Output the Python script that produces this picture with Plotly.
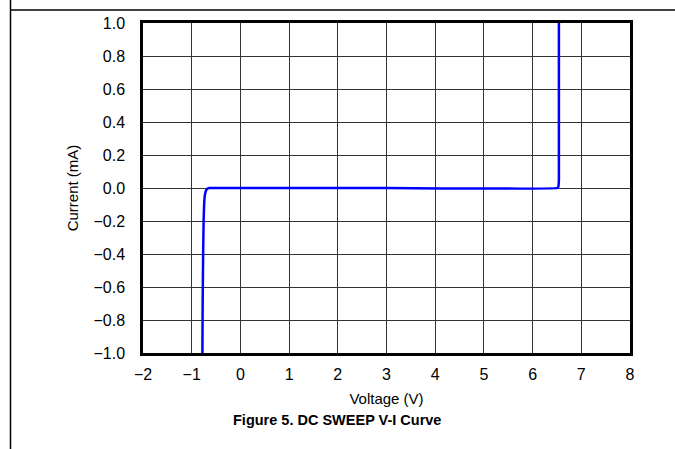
import plotly.graph_objects as go

voltage = [-0.78, -0.775, -0.765, -0.755, -0.745, -0.73, -0.71, -0.68, -0.64, 0.0, 3.0, 6.51, 6.53, 6.54, 6.54]
current = [-1.0, -0.7, -0.4, -0.2, -0.1, -0.045, -0.018, -0.005, 0.0, 0.0, 0.0, 0.0, 0.01, 0.05, 1.0]

x_ticks = [-2, -1, 0, 1, 2, 3, 4, 5, 6, 7, 8]
y_ticks = [-1.0, -0.8, -0.6, -0.4, -0.2, 0.0, 0.2, 0.4, 0.6, 0.8, 1.0]

fig = go.Figure()
fig.add_trace(go.Scatter(x=voltage, y=current, mode="lines",
                         line=dict(color="#0000ff", width=2.5, shape="spline", smoothing=0.3),
                         showlegend=False, hoverinfo="skip"))

FAM = "Liberation Sans, Arial, sans-serif"
tickfont = dict(family=FAM, size=16, color="#000")
titlefont = dict(family=FAM, size=15, color="#000")

fig.update_layout(
    width=675, height=449,
    margin=dict(l=143, r=45, t=23, b=96),
    paper_bgcolor="white", plot_bgcolor="white",
    font=tickfont,
    xaxis=dict(range=[-2, 8], tickvals=x_ticks, showgrid=True, gridcolor="#333", gridwidth=1,
               zeroline=True, zerolinecolor="#333", zerolinewidth=1,
               showline=True, linecolor="black", linewidth=2.5, mirror=True,
               ticks="", ticklen=0, ticklabelstandoff=5,
               title=dict(text="Voltage (V)", standoff=12, font=titlefont),
               tickfont=tickfont),
    yaxis=dict(range=[-1, 1], tickvals=y_ticks, tickformat=".1f", showgrid=True, gridcolor="#333", gridwidth=1,
               zeroline=True, zerolinecolor="#333", zerolinewidth=1,
               showline=True, linecolor="black", linewidth=2.5, mirror=True,
               ticks="", ticklen=0, ticklabelstandoff=12,
               title=dict(text="Current (mA)", standoff=12, font=titlefont),
               tickfont=tickfont),
    annotations=[dict(text="<b>Figure 5. DC SWEEP V-I Curve</b>", xref="paper", yref="paper",
                      x=(337 - 143) / 487, y=-(420 - 353) / 330, xanchor="center", yanchor="middle",
                      showarrow=False,
                      font=dict(family=FAM, size=14.5, color="#000"))],
    shapes=[
        dict(type="line", xref="paper", yref="paper",
             x0=(10 - 143) / 487, x1=(675 - 143) / 487, y0=(353 - 10) / 330, y1=(353 - 10) / 330,
             line=dict(color="black", width=1.5)),
        dict(type="line", xref="paper", yref="paper",
             x0=(10.5 - 143) / 487, x1=(10.5 - 143) / 487, y0=(353 - 449) / 330, y1=(353 - 0) / 330,
             line=dict(color="black", width=1.5)),
    ],
)

fig.write_html("out.html", config={"displayModeBar": False},
               post_script="document.body.style.margin='0';document.body.style.overflow='hidden';")
